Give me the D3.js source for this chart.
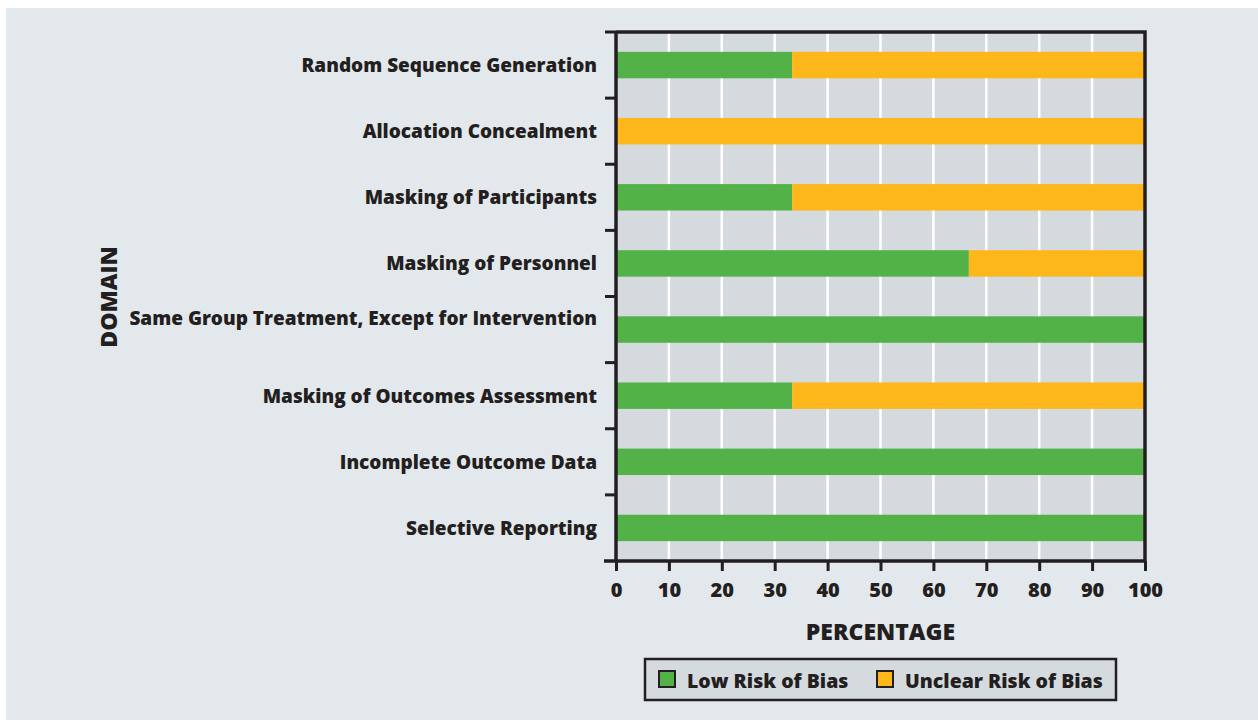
<!DOCTYPE html>
<html>
<head>
<meta charset="utf-8">
<script src="https://cdn.jsdelivr.net/npm/d3@7"></script>
<style>
  html, body { margin: 0; padding: 0; background: #ffffff; }
  svg { display: block; }
  text { font-family: "Open Sans", "Noto Sans", sans-serif; font-weight: 800; fill: #231f20; }
</style>
</head>
<body>
<svg id="chart" width="1258" height="720"></svg>
<script>
const categories = [
  "Random Sequence Generation",
  "Allocation Concealment",
  "Masking of Participants",
  "Masking of Personnel",
  "Same Group Treatment, Except for Intervention",
  "Masking of Outcomes Assessment",
  "Incomplete Outcome Data",
  "Selective Reporting"
];
const lowRisk     = [33.3, 0, 33.3, 66.7, 100, 33.3, 100, 100];
const unclearRisk = [66.7, 100, 66.7, 33.3, 0, 66.7, 0, 0];
const seriesNames = ["Low Risk of Bias", "Unclear Risk of Bias"];
const xTicks = [0, 10, 20, 30, 40, 50, 60, 70, 80, 90, 100];
const colors = ["#52b248", "#fdb71a"];

const svg = d3.select("#chart");
const ink = "#231f20";

// page panel
svg.append("rect").attr("x", 6).attr("y", 8).attr("width", 1252).attr("height", 712).attr("fill", "#e3e8ec");

const pL = 616, pR = 1145, pT = 32, pB = 561;
const x = d3.scaleLinear().domain([0, 100]).range([pL, pR]);
const y = d3.scaleBand().domain(categories).range([pT, pB]).paddingInner(0.6).paddingOuter(0.3);
const yb = d3.scaleBand().domain(categories).range([pT, pB]);

// plot background
svg.append("rect").attr("x", pL).attr("y", pT).attr("width", pR - pL).attr("height", pB - pT).attr("fill", "#d5dadf");

// gridlines
svg.append("g").selectAll("line").data(xTicks.slice(1, -1)).join("line")
  .attr("x1", d => x(d)).attr("x2", d => x(d)).attr("y1", pT).attr("y2", pB)
  .attr("stroke", "#ffffff").attr("stroke-width", 2.5);

// stacked data
const rows = categories.map((c, i) => ({ cat: c, low: lowRisk[i], unclear: unclearRisk[i] }));
const stack = d3.stack().keys(["low", "unclear"])(rows);

svg.append("g").selectAll("g").data(stack).join("g")
  .attr("fill", (d, i) => colors[i])
  .selectAll("rect").data(d => d).join("rect")
  .attr("x", d => x(d[0]))
  .attr("width", d => Math.max(0, x(d[1]) - x(d[0])))
  .attr("y", d => y(d.data.cat))
  .attr("height", y.bandwidth());

// frame (top and right)
svg.append("path")
  .attr("d", `M${pL},${pT}H${pR}V${pB}`)
  .attr("fill", "none").attr("stroke", ink).attr("stroke-width", 3.5);

// x axis
const xAxis = svg.append("g").attr("transform", `translate(0,${pB})`)
  .call(d3.axisBottom(x).tickValues(xTicks).tickSize(10).tickSizeOuter(0).tickPadding(12));
xAxis.select(".domain").attr("stroke", ink).attr("stroke-width", 3.5).attr("d", `M${pL - 12},0H${pR}`);
xAxis.selectAll(".tick line").attr("stroke", ink).attr("stroke-width", 3);
xAxis.selectAll(".tick text").attr("font-size", 20).attr("font-family", "Open Sans").attr("font-weight", 800).attr("fill", ink);

// y axis: line with boundary ticks
svg.append("line").attr("x1", pL).attr("x2", pL).attr("y1", pT).attr("y2", pB)
  .attr("stroke", ink).attr("stroke-width", 3.5);
const bounds = categories.map(c => yb(c));
svg.append("g").selectAll("line").data(bounds).join("line")
  .attr("x1", pL - 11).attr("x2", pL).attr("y1", d => d).attr("y2", d => d)
  .attr("stroke", ink).attr("stroke-width", 3);

// category labels
svg.append("g").selectAll("text").data(categories).join("text")
  .attr("x", 597)
  .attr("y", (d, i) => y(d) + y.bandwidth() / 2 + (i === 4 ? -12 : 0))
  .attr("text-anchor", "end").attr("dominant-baseline", "central")
  .attr("font-size", 19).text(d => d);

// axis titles
svg.append("text").attr("x", (pL + pR) / 2).attr("y", 631)
  .attr("text-anchor", "middle").attr("dominant-baseline", "central")
  .attr("font-size", 23).text("PERCENTAGE");
svg.append("text").attr("transform", "translate(108,297) rotate(-90)")
  .attr("text-anchor", "middle").attr("dominant-baseline", "central")
  .attr("font-size", 23).text("DOMAIN");

// legend
const lg = svg.append("g");
lg.append("rect").attr("x", 645).attr("y", 659).attr("width", 471).attr("height", 41)
  .attr("fill", "#d5dadf").attr("stroke", ink).attr("stroke-width", 2.5);
const legendX = [659, 877];
seriesNames.forEach((name, i) => {
  lg.append("rect").attr("x", legendX[i]).attr("y", 671).attr("width", 16).attr("height", 16)
    .attr("fill", colors[i]).attr("stroke", ink).attr("stroke-width", 2);
  lg.append("text").attr("x", legendX[i] + 28).attr("y", 680)
    .attr("dominant-baseline", "central").attr("font-size", 19.5).text(name);
});
</script>
</body>
</html>
